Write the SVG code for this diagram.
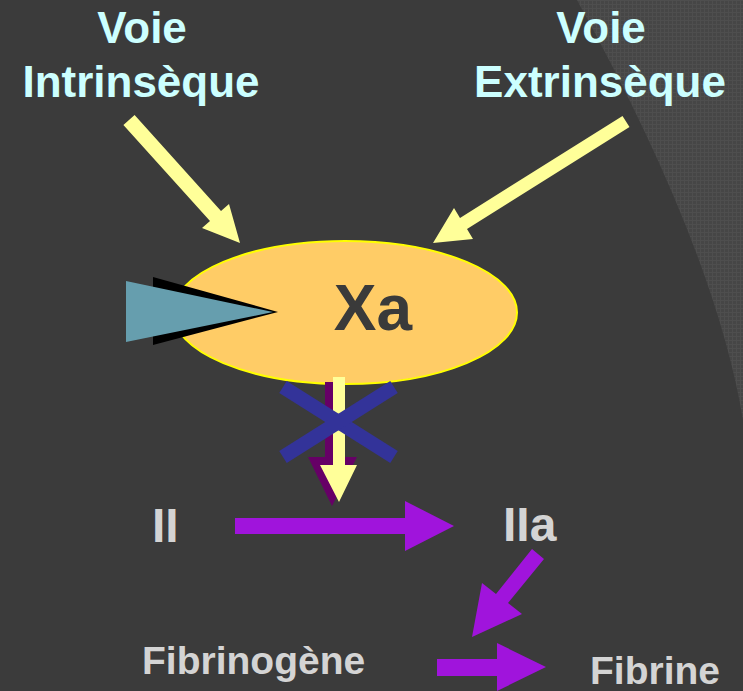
<svg xmlns="http://www.w3.org/2000/svg" width="743" height="691" viewBox="0 0 743 691">
  <style>
    .voie { font-family: "Liberation Sans", Arial, sans-serif; font-weight: bold; font-size: 44px; fill: #ccffff; text-anchor: middle; }
    .fact { font-family: "Liberation Sans", Arial, sans-serif; font-weight: bold; fill: #d4d4d4; }
    .yarrow { fill: #ffff99; }
    .parrow { fill: #a014dc; }
  </style>
  <defs>
    <pattern id="tex" width="4" height="4" patternUnits="userSpaceOnUse">
      <rect width="4" height="4" fill="#464646"/>
      <rect width="4" height="1" fill="#4e4e4e"/>
      <rect width="1" height="4" fill="#4e4e4e"/>
    </pattern>
  </defs>
  <rect width="743" height="691" fill="#3b3b3b"/>
  <path d="M577,0 Q715,250 743,420 L743,0 Z" fill="url(#tex)"/>

  <g id="voie-intrinseque">
    <text class="voie" x="142" y="43">Voie</text>
    <text class="voie" x="141" y="97">Intrinsèque</text>
  </g>
  <g id="voie-extrinseque">
    <text class="voie" x="601" y="43">Voie</text>
    <text class="voie" x="600" y="97">Extrinsèque</text>
  </g>

  <g id="xa">
    <ellipse cx="345" cy="312.5" rx="172" ry="71.5" fill="#ffcc66" stroke="#ffff00" stroke-width="2"/>
    <text x="373" y="330" font-family="Liberation Sans, Arial, sans-serif" font-weight="bold" font-size="64" fill="#3a3a3a" text-anchor="middle">Xa</text>
  </g>

  <g id="inhibitor">
    <polygon points="153,277 153,345 278,312" fill="#000000"/>
    <polygon points="126,281 126,342 273,312" fill="#669eae"/>
  </g>

  <g id="ii"><text class="fact" x="152" y="542" font-size="48">II</text></g>
  <g id="iia"><text class="fact" x="503" y="541" font-size="48">IIa</text></g>
  <g id="fibrinogene"><text class="fact" x="142" y="674" font-size="39">Fibrinogène</text></g>
  <g id="fibrine"><text class="fact" x="590" y="684" font-size="39">Fibrine</text></g>

  <g id="connectors">
    <polygon class="yarrow" points="123.4,125 134.6,115 221,211 229,204 240,243 202,228 210,221"/>
    <polygon class="yarrow" points="622.5,116 629.5,127 467,229 473,239 433,243 454,208 460,218"/>
    <polygon points="325,382 339,382 339,457 357,457 332,506 308,457 325,457" fill="#660066"/>
    <polygon class="yarrow" points="333,377 345,377 345,465 357,465 339,502 320,465 333,465"/>
    <g stroke="#333399" stroke-width="14" stroke-linecap="butt">
      <line x1="283" y1="387" x2="394" y2="457"/>
      <line x1="394" y1="387" x2="283" y2="457"/>
    </g>
    <polygon class="parrow" points="235,518 405,518 405,501 454,526 405,551 405,534 235,534"/>
    <polygon class="parrow" points="532,549 544,559 508,603 522,614 472,637 482,583 496,594"/>
    <polygon class="parrow" points="437,659 497,659 497,643 546,667 497,691 497,676 437,676"/>
  </g>
</svg>
